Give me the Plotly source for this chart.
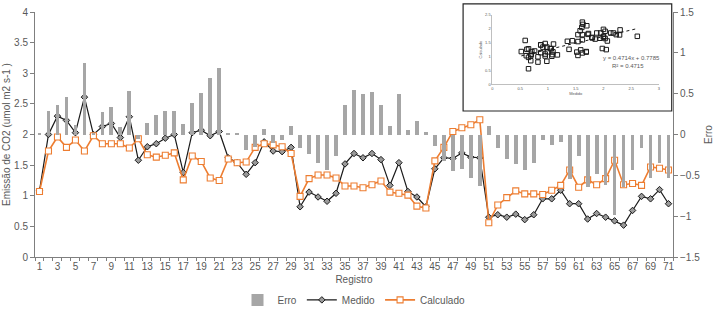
import plotly.graph_objects as go

registro = list(range(1, 72))

medido = [1.08, 2.00, 2.30, 2.23, 2.03, 2.61, 2.00, 2.13, 2.18, 1.95,
          2.29, 1.58, 1.80, 1.85, 1.94, 2.00, 1.38, 2.03, 2.07, 1.98,
          2.05, 1.62, 1.54, 1.35, 1.54, 1.88, 1.73, 1.72, 1.79, 0.82,
          1.06, 0.98, 0.91, 1.04, 1.52, 1.69, 1.62, 1.69, 1.59, 1.17,
          1.54, 1.07, 0.98, 0.82, 1.44, 1.62, 1.61, 1.70, 1.63, 1.62,
          0.65, 0.69, 0.65, 0.70, 0.61, 0.69, 0.95, 0.95, 1.09, 0.87,
          0.87, 0.62, 0.71, 0.65, 0.59, 0.52, 0.76, 0.99, 0.95, 1.10,
          0.87]

calculado = [1.07, 1.73, 1.96, 1.79, 1.91, 1.73, 1.98, 1.85, 1.85, 1.85,
             1.78, 1.93, 1.67, 1.63, 1.66, 1.70, 1.26, 1.65, 1.56, 1.29,
             1.25, 1.60, 1.54, 1.55, 1.79, 1.85, 1.83, 1.80, 1.69, 0.99,
             1.28, 1.34, 1.34, 1.29, 1.16, 1.16, 1.13, 1.18, 1.24, 1.06,
             1.04, 1.01, 0.83, 0.80, 1.57, 1.79, 2.05, 2.11, 2.16, 2.24,
             0.56, 0.85, 0.97, 1.08, 1.03, 1.03, 1.02, 1.09, 1.17, 1.42,
             1.14, 1.26, 1.18, 1.28, 1.58, 1.18, 1.20, 1.17, 1.47, 1.45,
             1.42]

erro = [0.01, 0.29, 0.36, 0.46, 0.12, 0.88, 0.02, 0.28, 0.34, 0.09,
        0.53, -0.06, 0.14, 0.24, 0.29, 0.29, 0.13, 0.39, 0.51, 0.69,
        0.81, 0.01, 0.01, -0.19, -0.15, 0.07, -0.10, -0.07, 0.10, -0.17,
        -0.24, -0.35, -0.44, -0.26, 0.36, 0.55, 0.50, 0.52, 0.36, 0.11,
        0.50, 0.06, 0.17, 0.03, -0.14, -0.32, -0.45, -0.42, -0.53, -0.63,
        0.10, -0.16, -0.30, -0.36, -0.44, -0.35, -0.07, -0.13, -0.09, -0.55,
        -0.26, -0.64, -0.48, -0.62, -0.99, -0.64, -0.43, -0.17, -0.53, -0.35,
        -0.53]

trend_slope = 0.4714
trend_intercept = 0.7785
trend_r2 = 0.4715

FONT = "Liberation Sans, Arial, sans-serif"
GRAY = "#595959"
ORANGE = "#ED7D31"

fig = go.Figure()

fig.add_trace(go.Bar(
    x=registro, y=erro, name="Erro", yaxis="y2",
    marker=dict(color="#a6a6a6", line=dict(width=0)), width=0.42,
))
fig.add_trace(go.Scatter(
    x=registro, y=medido, name="Medido", mode="lines+markers",
    line=dict(color="#1a1a1a", width=1.2),
    marker=dict(symbol="diamond", size=5, color="#9a9a9a",
                line=dict(color="#1a1a1a", width=1)),
))
fig.add_trace(go.Scatter(
    x=registro, y=calculado, name="Calculado", mode="lines+markers",
    line=dict(color=ORANGE, width=1.6),
    marker=dict(symbol="square", size=6, color="white",
                line=dict(color=ORANGE, width=1.1)),
))

# inset scatter (Medido vs Calculado)
fig.add_trace(go.Scatter(
    x=medido, y=calculado, mode="markers", xaxis="x3", yaxis="y3",
    showlegend=False,
    marker=dict(symbol="square-open", size=4.5, color="#1a1a1a",
                line=dict(width=1)),
))
xmin, xmax = min(medido), max(medido)
fig.add_trace(go.Scatter(
    x=[xmin, xmax],
    y=[trend_slope * xmin + trend_intercept, trend_slope * xmax + trend_intercept],
    mode="lines", xaxis="x3", yaxis="y3", showlegend=False,
    line=dict(color="#1a1a1a", width=1, dash="dot"),
))

fig.update_layout(
    width=714, height=315,
    margin=dict(l=35, r=41, t=12, b=58, autoexpand=False),
    paper_bgcolor="white", plot_bgcolor="white",
    font=dict(family=FONT, size=10, color=GRAY),
    showlegend=True,
    bargap=0,
    legend=dict(orientation="h", x=0.5, xanchor="center",
                yref="container", y=0.048, yanchor="middle",
                font=dict(size=10, color=GRAY), tracegroupgap=0),
    xaxis=dict(
        range=[0.5, 71.5], tickmode="array", automargin=False,
        tickvals=list(range(1, 72, 2)), ticktext=[str(v) for v in range(1, 72, 2)],
        ticks="", showline=True, linecolor="#7f7f7f", linewidth=1,
        showgrid=False, zeroline=False, ticklabelstandoff=0,
        tickfont=dict(size=10, color=GRAY),
        minor=dict(ticks="outside", tickmode="linear", tick0=0.5, dtick=1,
                   ticklen=3, tickcolor="#7f7f7f", showgrid=False),
        title=dict(text="Registro", font=dict(size=10, color=GRAY), standoff=4),
    ),
    yaxis=dict(
        range=[0, 4], dtick=0.5, showline=True, linecolor="#7f7f7f",
        linewidth=1, ticks="outside", ticklen=4, tickcolor="#7f7f7f",
        showgrid=False, zeroline=False, automargin=False,
        tickfont=dict(size=10, color=GRAY),
        title=dict(text="Emissão de CO2 (umol m2 s-1 )",
                   font=dict(size=10, color=GRAY), standoff=1),
    ),
    yaxis2=dict(
        overlaying="y", side="right", range=[-1.5, 1.5], dtick=0.5,
        showline=True, linecolor="#7f7f7f", linewidth=1, ticks="outside",
        ticklen=4, tickcolor="#7f7f7f", showgrid=False, zeroline=False,
        automargin=False,
        tickfont=dict(size=10, color=GRAY),
        title=dict(text="Erro", font=dict(size=10, color=GRAY), standoff=6),
    ),
    xaxis3=dict(
        domain=[0.717, 0.978], anchor="y3", range=[0, 3], dtick=0.5,
        showline=True, linecolor="#bfbfbf", linewidth=1, ticks="",
        showgrid=False, zeroline=False, automargin=False,
        tickfont=dict(size=4, color=GRAY),
        title=dict(text="Medido", font=dict(size=4, color=GRAY), standoff=1),
    ),
    yaxis3=dict(
        domain=[0.705, 0.988], anchor="x3", range=[0, 2.5], dtick=0.5,
        showline=True, linecolor="#bfbfbf", linewidth=1, ticks="",
        showgrid=False, zeroline=False, automargin=False,
        tickfont=dict(size=4, color=GRAY),
        title=dict(text="Calculado", font=dict(size=4, color=GRAY), standoff=2),
    ),
    shapes=[dict(type="rect", xref="paper", yref="paper",
                 x0=0.671, x1=0.998, y0=0.596, y1=1.033,
                 line=dict(color="#262626", width=1.2),
                 fillcolor="white", layer="below")],
    annotations=[
        dict(x=2.5, y=0.93, xref="x3", yref="y3", showarrow=False,
             xanchor="center", yanchor="middle",
             text=f"y = {trend_slope}x + {trend_intercept}",
             font=dict(size=6, color=GRAY)),
        dict(x=2.45, y=0.65, xref="x3", yref="y3", showarrow=False,
             xanchor="center", yanchor="middle",
             text=f"R² = {trend_r2}",
             font=dict(size=6, color=GRAY)),
    ],
)

fig.write_html("out.html", config={"displayModeBar": False},
               post_script="document.body.style.margin='0';document.body.style.padding='0';")
